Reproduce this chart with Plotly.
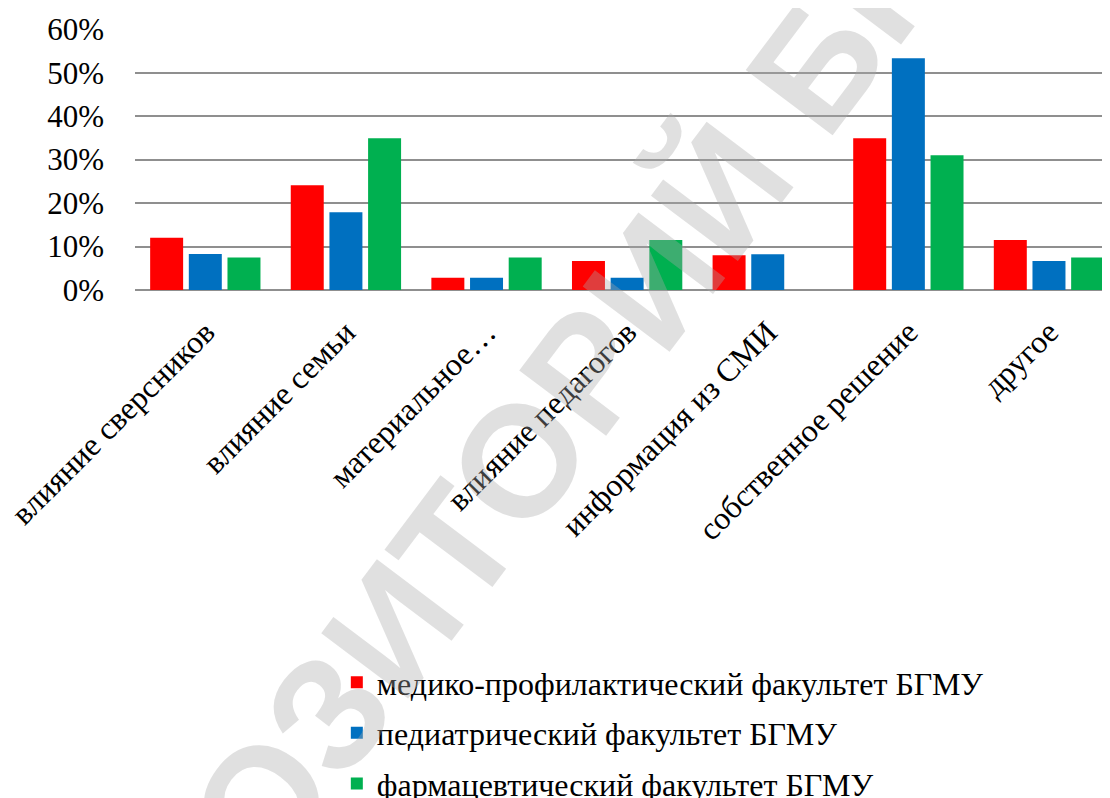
import plotly.graph_objects as go

categories = ["влияние сверсников", "влияние семьи", "материальное…", "влияние педагогов",
              "информация из СМИ", "собственное решение", "другое"]
series_names = ["медико-профилактический факультет БГМУ", "педиатрический факультет БГМУ",
                "фармацевтический факультет БГМУ"]
med_prof = [12.0, 24.1, 2.8, 6.7, 8.0, 34.9, 11.5]
pediatr = [8.3, 17.9, 2.8, 2.8, 8.2, 53.3, 6.7]
pharm = [7.5, 34.9, 7.5, 11.5, 0, 31.0, 7.5]
colors = ["#FF0000", "#0070C0", "#00B050"]
y_ticks = [0, 10, 20, 30, 40, 50, 60]
y_tick_labels = ["0%", "10%", "20%", "30%", "40%", "50%", "60%"]

FONT = "'Liberation Serif', 'Times New Roman', serif"

fig = go.Figure()
for i, (name, vals) in enumerate(zip(series_names, [med_prof, pediatr, pharm])):
    fig.add_trace(go.Bar(x=categories, y=vals, name=name, marker_color=colors[i],
                         marker_line_width=0, legendgroup=str(i)))

fig.update_layout(
    width=1110, height=798,
    margin=dict(l=127, r=8, t=21, b=516, autoexpand=False),
    paper_bgcolor="white", plot_bgcolor="white",
    barmode="group", bargap=0.175, bargroupgap=0.147,
    font=dict(family=FONT, size=32, color="black"),
    showlegend=True,
    legend=dict(orientation="v", x=0.207, xanchor="left", y=-1.398, yanchor="top",
                font=dict(family=FONT, size=32, color="black"),
                traceorder="grouped", tracegroupgap=6, bgcolor="rgba(0,0,0,0)"),
    xaxis=dict(range=[-0.5, 6.434], tickangle=-45, showgrid=False, showline=False,
               ticks="", automargin=False, ticklabelstandoff=16,
               tickfont=dict(family=FONT, size=32, color="black")),
    yaxis=dict(range=[0, 60.05], tickmode="array", tickvals=y_ticks, ticktext=y_tick_labels,
               showgrid=True, gridcolor="#8f8f8f", gridwidth=2, zeroline=True,
               zerolinecolor="#8f8f8f", zerolinewidth=2, showline=False, ticks="",
               automargin=False, ticklabelstandoff=30,
               tickfont=dict(family=FONT, size=31, color="black")),
)

fig.add_annotation(text="<b>РЕПОЗИТОРИЙ БГМУ</b>", xref="paper", yref="paper",
                   x=0.412, y=-0.565, xanchor="center", yanchor="middle",
                   textangle=-53, showarrow=False,
                   font=dict(family="Liberation Sans, Arial, sans-serif", size=158,
                             color="rgba(170,170,170,0.36)"))

fig.write_html("out.html")
